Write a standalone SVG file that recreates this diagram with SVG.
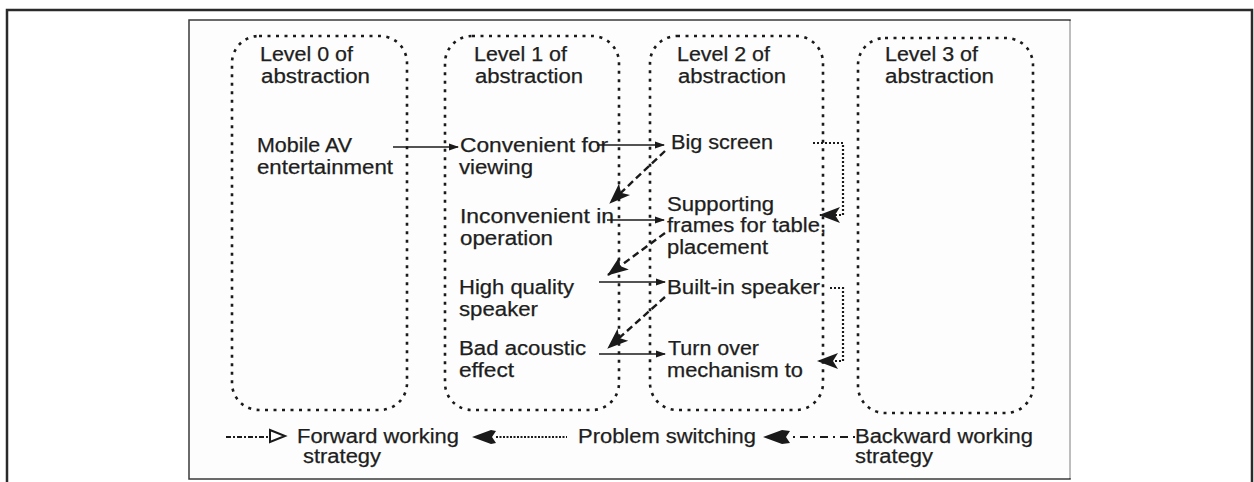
<svg xmlns="http://www.w3.org/2000/svg" width="1254" height="482" viewBox="0 0 1254 482">
<defs>
<style>
.t{font-family:"Liberation Sans",Arial,sans-serif;font-size:19.5px;fill:#1e1e1e;stroke:#1e1e1e;stroke-width:0.25;}
.lvl{fill:none;stroke:#1a1a1a;stroke-width:2.6;stroke-dasharray:3 5.5;}
.sol{fill:none;stroke:#1a1a1a;stroke-width:1.6;marker-end:url(#sa);}
.dsh{fill:none;stroke:#1a1a1a;stroke-width:2.4;stroke-dasharray:7 4;marker-end:url(#big);}
.dot{fill:none;stroke:#1a1a1a;stroke-width:2.2;stroke-dasharray:2 2;marker-end:url(#big);}
</style>
<marker id="sa" markerUnits="userSpaceOnUse" markerWidth="10" markerHeight="8" refX="9" refY="4" orient="auto">
<path d="M0,0.5 L10,4 L0,7.5 z" fill="#1a1a1a"/>
</marker>
<marker id="big" markerUnits="userSpaceOnUse" markerWidth="21" markerHeight="16" refX="20" refY="8" orient="auto" overflow="visible">
<path d="M0,0 L21,8 L0,16 L5,8 z" fill="#1a1a1a"/>
</marker>
</defs>
<rect width="1254" height="482" fill="#ffffff"/>
<path d="M7,484 V10 H1252 V484" fill="none" stroke="#2a2a2a" stroke-width="2.5"/>
<rect x="189" y="20" width="881" height="459" fill="#fdfdfd" stroke="#3a3a3a" stroke-width="1.5"/>
<line x1="1070" y1="21" x2="1070" y2="478" stroke="#bdbdbd" stroke-width="2"/>

<g id="level0">
<rect class="lvl" x="232" y="36" width="175" height="374" rx="27"/>
<text class="t" x="260" y="61" textLength="93" lengthAdjust="spacingAndGlyphs">Level 0 of</text>
<text class="t" x="261" y="83" textLength="109" lengthAdjust="spacingAndGlyphs">abstraction</text>
</g>
<g id="level1">
<rect class="lvl" x="445" y="36" width="174" height="374" rx="27"/>
<text class="t" x="474" y="61" textLength="93" lengthAdjust="spacingAndGlyphs">Level 1 of</text>
<text class="t" x="475" y="83" textLength="108" lengthAdjust="spacingAndGlyphs">abstraction</text>
</g>
<g id="level2">
<rect class="lvl" x="650" y="36" width="173" height="374" rx="27"/>
<text class="t" x="677" y="61" textLength="93" lengthAdjust="spacingAndGlyphs">Level 2 of</text>
<text class="t" x="678" y="83" textLength="108" lengthAdjust="spacingAndGlyphs">abstraction</text>
</g>
<g id="level3">
<rect class="lvl" x="858" y="38" width="175" height="375" rx="27"/>
<text class="t" x="885" y="61" textLength="93" lengthAdjust="spacingAndGlyphs">Level 3 of</text>
<text class="t" x="885" y="83" textLength="109" lengthAdjust="spacingAndGlyphs">abstraction</text>
</g>

<g id="mobile-av">
<text class="t" x="257" y="152" textLength="95" lengthAdjust="spacingAndGlyphs">Mobile AV</text>
<text class="t" x="257" y="174" textLength="136" lengthAdjust="spacingAndGlyphs">entertainment</text>
</g>
<g id="convenient">
<text class="t" x="460" y="152" textLength="148" lengthAdjust="spacingAndGlyphs">Convenient for</text>
<text class="t" x="459" y="174" textLength="74" lengthAdjust="spacingAndGlyphs">viewing</text>
</g>
<g id="inconvenient">
<text class="t" x="460" y="223" textLength="154" lengthAdjust="spacingAndGlyphs">Inconvenient in</text>
<text class="t" x="460" y="245" textLength="93" lengthAdjust="spacingAndGlyphs">operation</text>
</g>
<g id="high-quality">
<text class="t" x="459" y="294" textLength="115" lengthAdjust="spacingAndGlyphs">High quality</text>
<text class="t" x="459" y="316" textLength="79" lengthAdjust="spacingAndGlyphs">speaker</text>
</g>
<g id="bad-acoustic">
<text class="t" x="459" y="355" textLength="127" lengthAdjust="spacingAndGlyphs">Bad acoustic</text>
<text class="t" x="459" y="377" textLength="55" lengthAdjust="spacingAndGlyphs">effect</text>
</g>
<g id="big-screen">
<text class="t" x="671" y="149" textLength="102" lengthAdjust="spacingAndGlyphs">Big screen</text>
</g>
<g id="supporting">
<text class="t" x="667" y="211" textLength="107" lengthAdjust="spacingAndGlyphs">Supporting</text>
<text class="t" x="667" y="232" textLength="159" lengthAdjust="spacingAndGlyphs">frames for table,</text>
<text class="t" x="667" y="254" textLength="101" lengthAdjust="spacingAndGlyphs">placement</text>
</g>
<g id="built-in">
<text class="t" x="667" y="294" textLength="153" lengthAdjust="spacingAndGlyphs">Built-in speaker</text>
</g>
<g id="turn-over">
<text class="t" x="668" y="355" textLength="91" lengthAdjust="spacingAndGlyphs">Turn over</text>
<text class="t" x="667" y="377" textLength="136" lengthAdjust="spacingAndGlyphs">mechanism to</text>
</g>

<g id="connectors">
<path class="sol" d="M393,147 H458"/>
<path class="sol" d="M597,145 H664"/>
<path class="sol" d="M607,220 H664"/>
<path class="sol" d="M599,282 H665"/>
<path class="sol" d="M599,354 H665"/>
<path class="dsh" d="M665,151 L610,203"/>
<path class="dsh" d="M665,233 L608,275"/>
<path class="dsh" d="M665,297 L608,348"/>
<path class="dot" d="M813,143 H843 V215 H820"/>
<path class="dot" d="M830,288 H843 V361 H818"/>
</g>

<g id="legend">
<path d="M226,437 H270" fill="none" stroke="#1a1a1a" stroke-width="2" stroke-dasharray="5 2 2 2"/>
<path d="M270,430 L285,436 L270,442 z" fill="#fff" stroke="#1a1a1a" stroke-width="2"/>
<text class="t" x="297" y="443" textLength="162" lengthAdjust="spacingAndGlyphs">Forward working</text>
<text class="t" x="303" y="463" textLength="78" lengthAdjust="spacingAndGlyphs">strategy</text>
<path d="M496,437 H567" fill="none" stroke="#1a1a1a" stroke-width="2" stroke-dasharray="2 1.5"/>
<path d="M472,437 L491,430 L496,431 L492,437 L496,443 L491,444 z" fill="#1a1a1a"/>
<text class="t" x="578" y="443" textLength="178" lengthAdjust="spacingAndGlyphs">Problem switching</text>
<path d="M793,437 H855" fill="none" stroke="#1a1a1a" stroke-width="2" stroke-dasharray="2 5 8 5"/>
<path d="M763,437 L782,430 L790,431 L786,437 L790,443 L782,444 z" fill="#1a1a1a"/>
<text class="t" x="855" y="443" textLength="178" lengthAdjust="spacingAndGlyphs">Backward working</text>
<text class="t" x="855" y="463" textLength="78" lengthAdjust="spacingAndGlyphs">strategy</text>
</g>
</svg>
